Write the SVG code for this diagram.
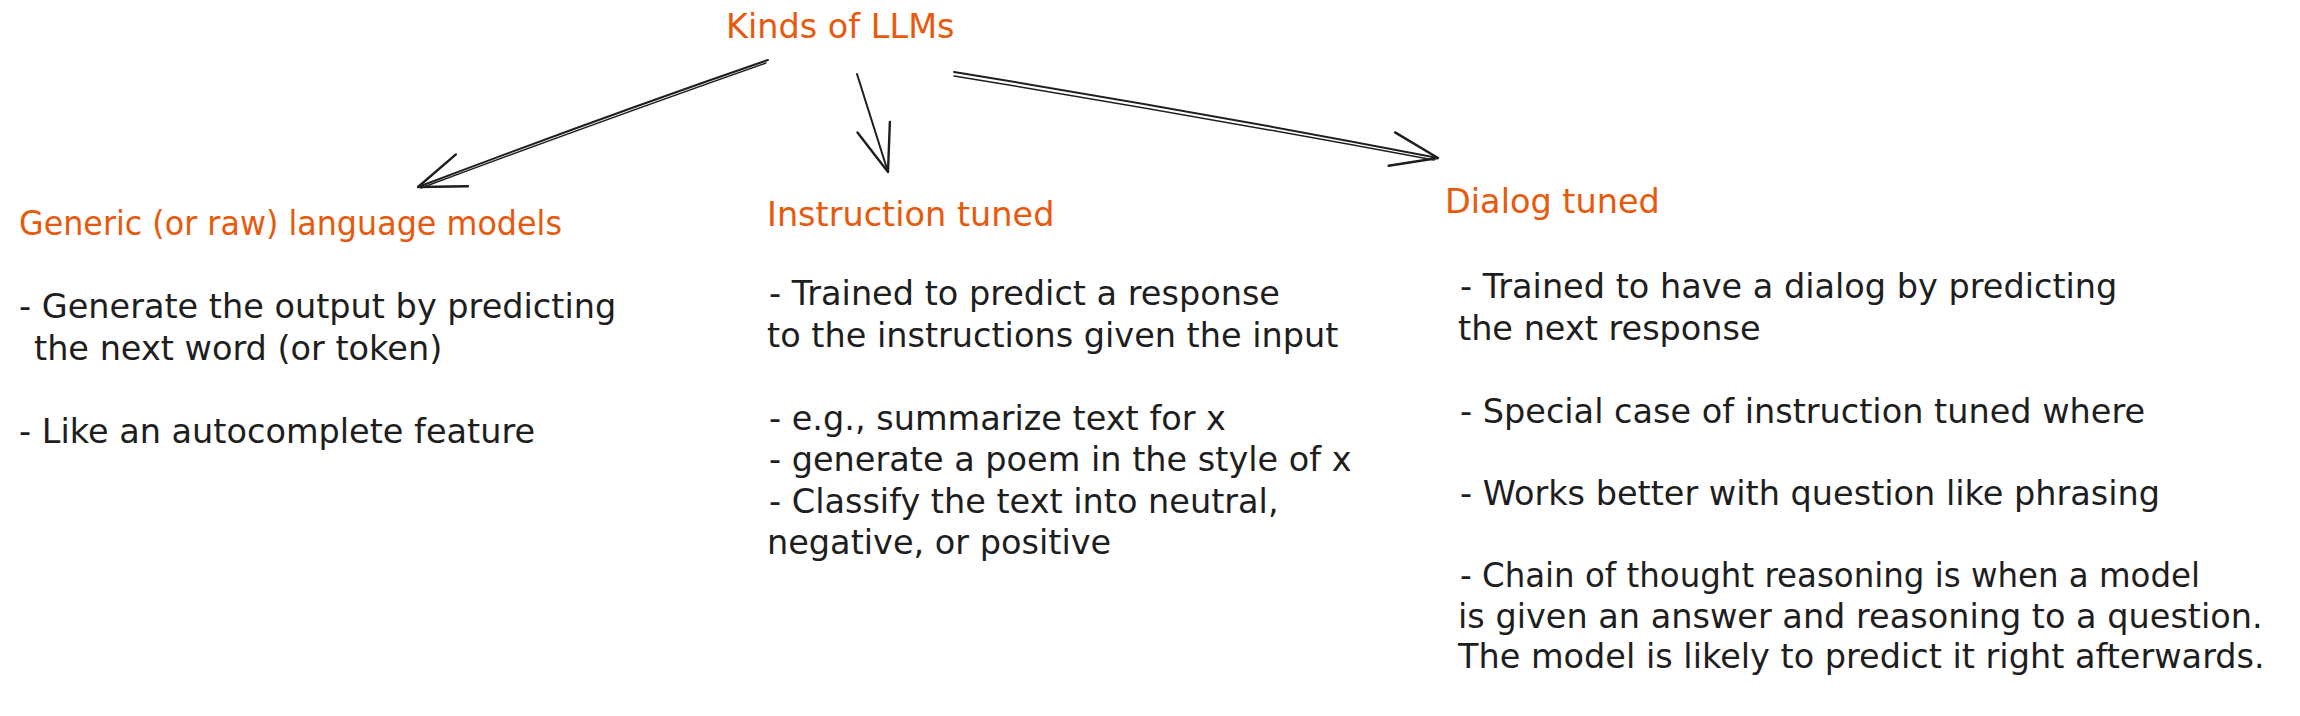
<svg xmlns="http://www.w3.org/2000/svg" width="2300" height="716" viewBox="0 0 2300 716">
  <style>
    .h { font-family: "DejaVu Sans", "Liberation Sans", sans-serif; font-size: 33.5px; fill: #e8590c; }
    .t { font-family: "DejaVu Sans", "Liberation Sans", sans-serif; font-size: 33.5px; fill: #1e1e1e; }
    .s { fill: none; stroke: #1e1e1e; stroke-width: 2; stroke-linecap: round; }
    .s2 { fill: none; stroke: #1e1e1e; stroke-width: 1.4; stroke-linecap: round; }
  </style>
  <defs>
    <marker id="ah" markerUnits="userSpaceOnUse" markerWidth="64" markerHeight="44" viewBox="-56 -22 64 44" refX="0" refY="0" orient="auto">
      <path d="M-47,-17 L0,0 L-47,17" fill="none" stroke="#1e1e1e" stroke-width="2.4" stroke-linecap="round" stroke-linejoin="round"/>
    </marker>
  </defs>
  <rect width="2300" height="716" fill="#ffffff"/>

  <g id="connectors">
    <path class="s" d="M768,60 Q600,118 418,187" marker-end="url(#ah)"/>
    <path class="s2" d="M766,63 Q598,122 421,188"/>
    <path class="s" d="M857,74 Q872,122 888,172" marker-end="url(#ah)"/>
    <path class="s" d="M954,72 Q1200,112 1438,158" marker-end="url(#ah)"/>
    <path class="s2" d="M954,76 Q1198,116 1434,160"/>
  </g>

  <g id="node-root">
    <text class="h" x="726" y="38">Kinds of LLMs</text>
  </g>

  <g id="node-generic">
    <text class="h" x="19" y="235" textLength="543" lengthAdjust="spacingAndGlyphs">Generic (or raw) language models</text>
    <text class="t" x="19" y="318">- Generate the output by predicting</text>
    <text class="t" x="34" y="359.5">the next word (or token)</text>
    <text class="t" x="19" y="442.5">- Like an autocomplete feature</text>
  </g>

  <g id="node-instruction">
    <text class="h" x="767" y="226">Instruction tuned</text>
    <text class="t" x="769" y="305">- Trained to predict a response</text>
    <text class="t" x="767" y="346.5">to the instructions given the input</text>
    <text class="t" x="769" y="429.5">- e.g., summarize text for x</text>
    <text class="t" x="769" y="471">- generate a poem in the style of x</text>
    <text class="t" x="769" y="512.5">- Classify the text into neutral,</text>
    <text class="t" x="767" y="554">negative, or positive</text>
  </g>

  <g id="node-dialog">
    <text class="h" x="1445" y="213">Dialog tuned</text>
    <text class="t" x="1460" y="298">- Trained to have a dialog by predicting</text>
    <text class="t" x="1458" y="340">the next response</text>
    <text class="t" x="1460" y="423">- Special case of instruction tuned where</text>
    <text class="t" x="1460" y="505">- Works better with question like phrasing</text>
    <text class="t" x="1460" y="587" textLength="740" lengthAdjust="spacingAndGlyphs">- Chain of thought reasoning is when a model</text>
    <text class="t" x="1458" y="628">is given an answer and reasoning to a question.</text>
    <text class="t" x="1458" y="668">The model is likely to predict it right afterwards.</text>
  </g>
</svg>
